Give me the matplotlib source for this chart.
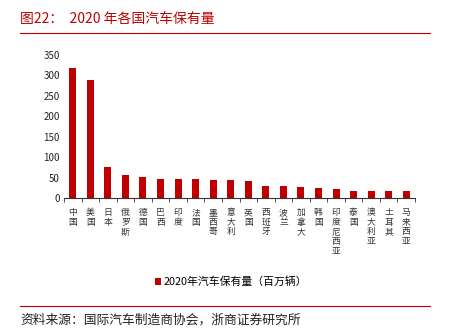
import matplotlib.pyplot as plt
from matplotlib.lines import Line2D
import numpy as np

plt.rcParams['font.family'] = ['Noto Sans CJK SC', 'DejaVu Sans']

countries = ['中国', '美国', '日本', '俄罗斯', '德国', '巴西', '印度', '法国', '墨西哥', '意大利',
             '英国', '西班牙', '波兰', '加拿大', '韩国', '印度尼西亚', '泰国', '澳大利亚', '土耳其', '马来西亚']
vehicles = [319, 290, 77, 57, 52, 47, 47, 46, 45, 45,
            43, 30, 30, 27, 24, 22, 19, 19, 19, 18]
yticks = [0, 50, 100, 150, 200, 250, 300, 350]

red = '#C00000'

fig = plt.figure(figsize=(4.53, 3.32), dpi=100)
ax = fig.add_axes([64 / 453, 1 - 198.3 / 332, (415 - 64) / 453, (198.3 - 55) / 332])

x = np.arange(len(countries))
ax.bar(x, vehicles, width=0.4, color=red, label='2020年汽车保有量（百万辆）')
ax.set_xlim(-0.5, len(countries) - 0.5)
ax.set_ylim(0, 350)
ax.set_yticks(yticks)
ax.tick_params(axis='y', length=0, labelsize=7, pad=3, labelcolor='#222222')

ax.set_xticks(x)
ax.set_xticklabels(['\n'.join(c) for c in countries], fontsize=6.3, linespacing=1.1,
                   va='top', color='#333333')
ax.tick_params(axis='x', length=0, pad=7)
ax.set_xticks(np.arange(-0.5, len(countries)), minor=True)
ax.tick_params(axis='x', which='minor', length=3, direction='out', color='#333333')

for s in ['top', 'right', 'left']:
    ax.spines[s].set_visible(False)
ax.spines['bottom'].set_color('#333333')
ax.spines['bottom'].set_linewidth(0.8)

ax.legend(loc='center', bbox_to_anchor=(231 / 453, 1 - 282 / 332), bbox_transform=fig.transFigure,
          frameon=False, fontsize=7.8, handlelength=0.55, handleheight=0.55, handletextpad=0.3)

fig.text(20 / 453, 1 - 19 / 332, '图22：  2020 年各国汽车保有量', color=red, fontsize=10,
         va='center', ha='left')
fig.add_artist(Line2D([20 / 453, 430 / 453], [1 - 33 / 332] * 2, color=red, lw=0.8))
fig.add_artist(Line2D([20 / 453, 430 / 453], [1 - 306 / 332] * 2, color=red, lw=0.8))
fig.text(20 / 453, 1 - 320 / 332, '资料来源：国际汽车制造商协会，浙商证券研究所', color='#222222',
         fontsize=9.2, va='center', ha='left')

fig.savefig('out.png', dpi=100)
